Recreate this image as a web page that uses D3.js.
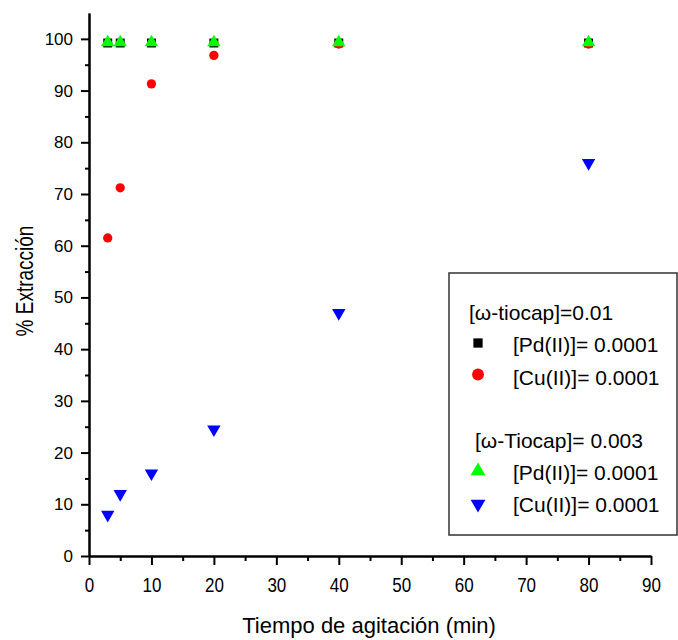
<!DOCTYPE html>
<html>
<head>
<meta charset="utf-8">
<script src="https://cdn.jsdelivr.net/npm/d3@7"></script>
<style>
  body { margin: 0; background: #fff; }
  text { font-family: "Liberation Sans", Arial, sans-serif; fill: #000; }
</style>
</head>
<body>
<div id="chart"></div>
<script>
// tiempo de agitación (min)
var tiempos = [3, 5, 10, 20, 40, 80];
// % extracción, [ω-tiocap]=0.01
var pdA = [99.2, 99.2, 99.2, 99.2, 99.2, 99.2];
var cuA = [61.5, 71.2, 91.3, 96.8, 99.0, 99.0];
// % extracción, [ω-Tiocap]=0.003
var pdB = [99.3, 99.3, 99.3, 99.3, 99.3, 99.3];
var cuB = [8.0, 12.0, 16.0, 24.5, 47.0, 76.0];

var xTicks = [0, 10, 20, 30, 40, 50, 60, 70, 80, 90];
var yTicks = [0, 10, 20, 30, 40, 50, 60, 70, 80, 90, 100];

var width = 678, height = 640;
var margin = {left: 89, right: 27, top: 13, bottom: 84};

var svg = d3.select("#chart").append("svg")
  .attr("width", width)
  .attr("height", height);

var x = d3.scaleLinear().domain([0, 90]).range([margin.left, width - margin.right]);
var y = d3.scaleLinear().domain([0, 105]).range([height - margin.bottom, margin.top]);

// axes: major ticks every 10, minor every 5
var xAxis = d3.axisBottom(x).tickValues(xTicks).tickSize(9).tickSizeOuter(0)
  .tickFormat(d3.format("d"));
var xMinor = d3.axisBottom(x).tickValues(d3.range(5, 90, 10)).tickSize(5).tickSizeOuter(0).tickFormat("");
var yAxis = d3.axisLeft(y).tickValues(yTicks).tickSize(8).tickSizeOuter(0).tickPadding(8)
  .tickFormat(d3.format("d"));
var yMinor = d3.axisLeft(y).tickValues(d3.range(5, 105, 10)).tickSize(4).tickSizeOuter(0).tickFormat("");

function styleAxis(g) {
  g.select(".domain").attr("stroke", "#000").attr("stroke-width", 2);
  g.selectAll(".tick line").attr("stroke", "#000").attr("stroke-width", 2);
  g.selectAll(".tick text").style("font-size", "17px").attr("fill", "#000")
    .style("font-family", "'Liberation Sans', Arial, sans-serif");
}

svg.append("g").attr("transform", "translate(0," + y(0) + ")").call(xMinor).call(styleAxis);
svg.append("g").attr("transform", "translate(0," + y(0) + ")").call(xAxis).call(styleAxis)
  .selectAll(".tick text")
    .attr("y", null).attr("dy", null)
    .attr("transform", "translate(0,36) scale(1,1.17)");
svg.append("g").attr("transform", "translate(" + x(0) + ",0)").call(yMinor).call(styleAxis);
svg.append("g").attr("transform", "translate(" + x(0) + ",0)").call(yAxis).call(styleAxis);

// axis titles
svg.append("text")
  .attr("x", 369)
  .attr("y", 633)
  .attr("text-anchor", "middle")
  .style("font-size", "22px")
  .text("Tiempo de agitación (min)");

svg.append("text")
  .attr("transform", "translate(33,281) rotate(-90) scale(1,1.3)")
  .attr("text-anchor", "middle")
  .style("font-size", "19px")
  .text("% Extracción");

var symSquare = d3.symbol().type(d3.symbolSquare).size(80);
var symCircle = d3.symbol().type(d3.symbolCircle).size(68);
var symTri = d3.symbol().type(d3.symbolTriangle).size(78);

function plotSeries(vals, sym, color, flip) {
  svg.append("g").selectAll("path")
    .data(tiempos.map(function(t, i) { return [t, vals[i]]; }))
    .enter().append("path")
      .attr("d", sym)
      .attr("fill", color)
      .attr("transform", function(d) {
        return "translate(" + x(d[0]) + "," + y(d[1]) + ")" + (flip ? " rotate(180)" : "");
      });
}

plotSeries(pdA, symSquare, "#000000", false);
plotSeries(cuA, symCircle, "#ff0000", false);
plotSeries(pdB, symTri, "#00ff00", false);
plotSeries(cuB, symTri, "#0000ff", true);

// legend
var legSquare = d3.symbol().type(d3.symbolSquare).size(86);
var legCircle = d3.symbol().type(d3.symbolCircle).size(110);
var legTri = d3.symbol().type(d3.symbolTriangle).size(95);

var leg = svg.append("g");
leg.append("rect")
  .attr("x", 449).attr("y", 273)
  .attr("width", 228).attr("height", 262)
  .attr("fill", "#fff").attr("stroke", "#333").attr("stroke-width", 1.5);

var legRows = [
  {label: "[ω-tiocap]=0.01", y: 320, tx: 469},
  {label: "[Pd(II)]= 0.0001", y: 352, tx: 513, sym: legSquare, color: "#000000", dy: -9},
  {label: "[Cu(II)]= 0.0001", y: 385, tx: 513, sym: legCircle, color: "#ff0000", dy: -10.5},
  {label: "[ω-Tiocap]= 0.003", y: 448, tx: 475},
  {label: "[Pd(II)]= 0.0001", y: 480, tx: 513, sym: legTri, color: "#00ff00", dy: -9},
  {label: "[Cu(II)]= 0.0001", y: 512, tx: 513, sym: legTri, color: "#0000ff", dy: -8, flip: true}
];

legRows.forEach(function(r) {
  leg.append("text")
    .attr("x", r.tx).attr("y", r.y)
    .style("font-size", "21px")
    .text(r.label);
  if (r.sym) {
    leg.append("path")
      .attr("d", r.sym)
      .attr("fill", r.color)
      .attr("transform", "translate(478," + (r.y + r.dy) + ")" + (r.flip ? " rotate(180)" : ""));
  }
});
</script>
</body>
</html>
